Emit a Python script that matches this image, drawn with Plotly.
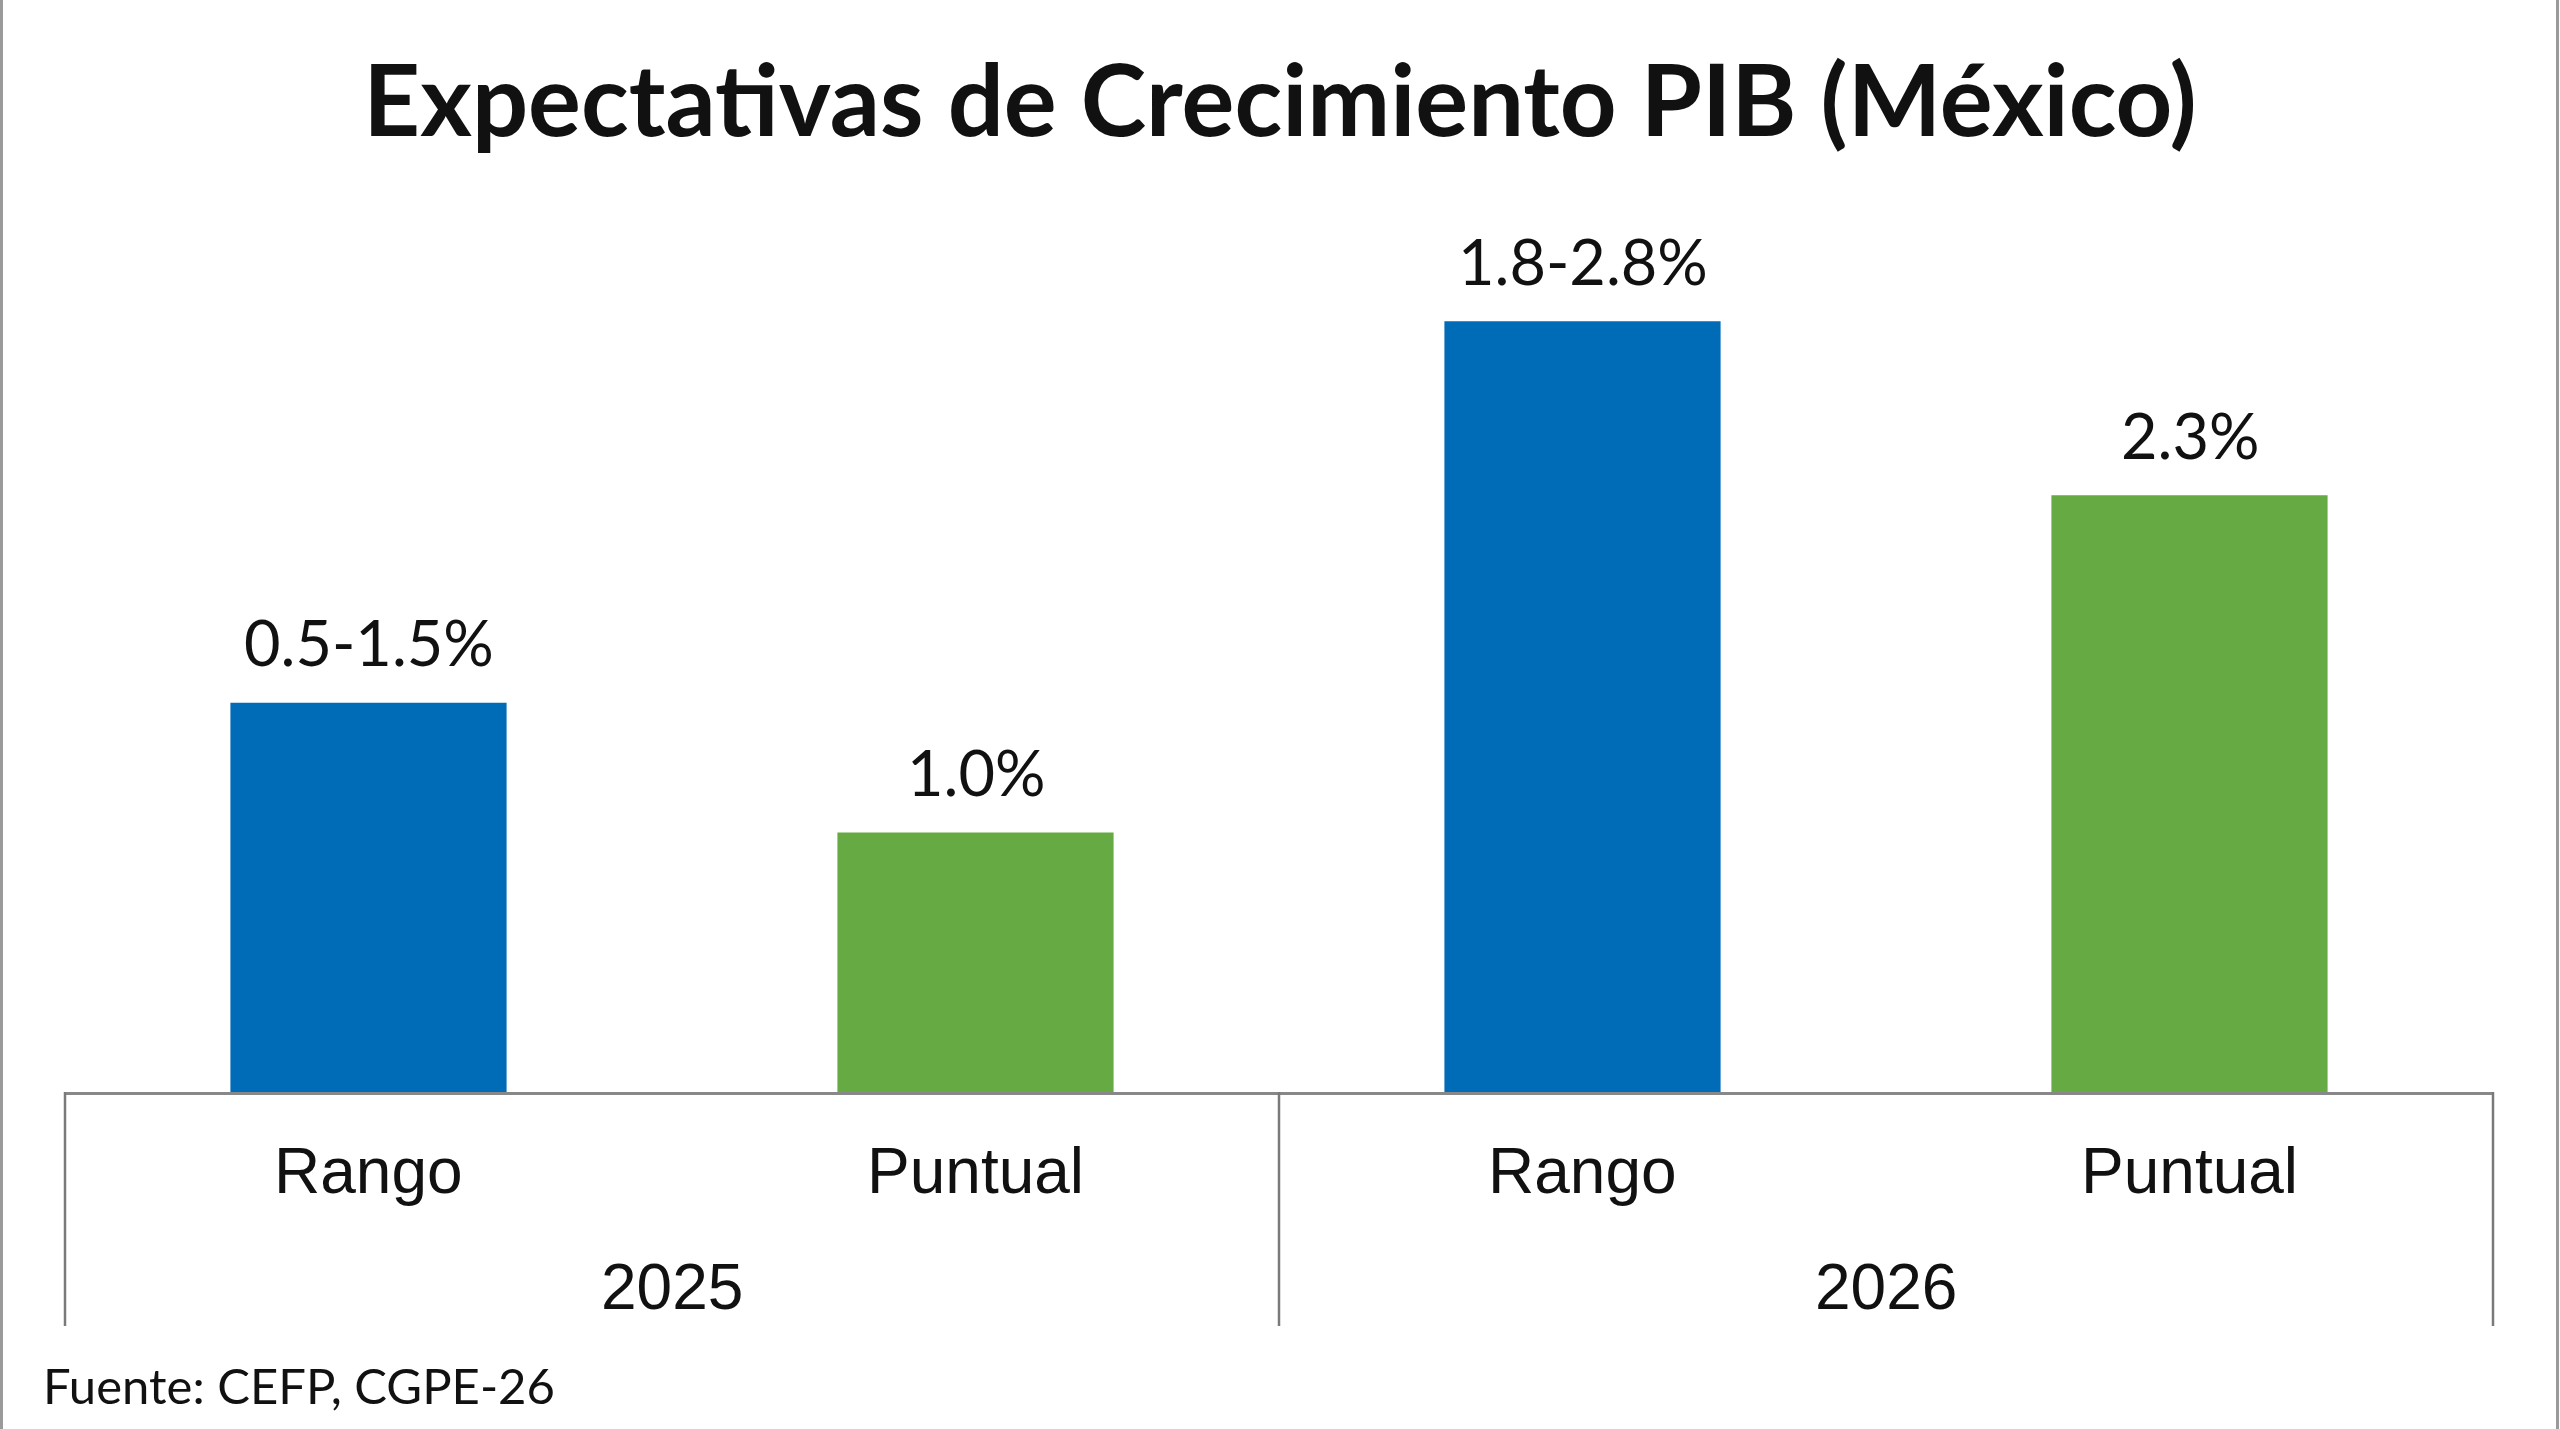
import plotly.graph_objects as go

years = ["2025", "2025", "2026", "2026"]
kinds = ["Rango", "Puntual", "Rango", "Puntual"]
values = [1.5, 1.0, 2.97, 2.3]
labels = ["0.5-1.5%", "1.0%", "1.8-2.8%", "2.3%"]
colors = ["#006BB6", "#66AA44", "#006BB6", "#66AA44"]
year_groups = ["2025", "2026"]

title = "Expectativas de Crecimiento PIB (México)"
source = "Fuente: CEFP, CGPE-26"

W, H = 2560, 1429
ML, MR, MT, MB = 65, 67, 200, 337
PW = W - ML - MR
PH = H - MT - MB
BASE = H - MB  # pixel y of axis line


def py(pix):
    """pixel y -> paper y"""
    return (BASE - pix) / PH


def px(pix):
    """pixel x -> paper x"""
    return (pix - ML) / PW


fig = go.Figure()
fig.add_trace(go.Bar(
    x=[years, kinds],
    y=values,
    marker=dict(color=colors, line=dict(width=0)),
    showlegend=False,
    hoverinfo="skip",
))

# value labels above bars
for yr, kd, v, lab in zip(years, kinds, values, labels):
    fig.add_annotation(
        x=[yr, kd], y=v, xref="x", yref="y", text=lab, showarrow=False,
        xanchor="center", yanchor="middle", yshift=61,
        font=dict(family="Lato", size=63, color="#111111"),
    )

# inner category labels
for yr, kd in zip(years, kinds):
    fig.add_annotation(
        x=[yr, kd], y=py(1171), xref="x", yref="paper", text=kd, showarrow=False,
        xanchor="center", yanchor="middle",
        font=dict(family="Liberation Sans", size=64, color="#111111"),
    )

# outer group labels and dividers
ng = len(year_groups)
for i, yr in enumerate(year_groups):
    fig.add_annotation(
        x=(i + 0.5) / ng, y=py(1287), xref="paper", yref="paper", text=yr,
        showarrow=False, xanchor="center", yanchor="middle",
        font=dict(family="Liberation Sans", size=64, color="#111111"),
    )
for i in range(ng + 1):
    fig.add_shape(type="line", xref="paper", yref="paper",
                  x0=i / ng, x1=i / ng, y0=0, y1=py(1326),
                  line=dict(color="#7a7a7a", width=2.5))

fig.add_annotation(
    x=px(41), y=py(1385), xref="paper", yref="paper",
    text=source, showarrow=False, xanchor="left", yanchor="middle",
    font=dict(family="Lato", size=49, color="#111111"),
)

# page borders (left and right)
for xb in (1.5, W - 2.5):
    fig.add_shape(type="line", xref="paper", yref="paper",
                  x0=px(xb), x1=px(xb), y0=py(H), y1=py(0),
                  line=dict(color="#9a9a9a", width=3))

fig.update_layout(
    width=W, height=H,
    margin=dict(l=ML, r=MR, t=MT, b=MB),
    paper_bgcolor="white", plot_bgcolor="white",
    bargap=0.545,
    title=dict(text=title, x=0.5, xanchor="center", y=1 - 101 / H, yanchor="middle",
               font=dict(family="Lato", size=99, color="#111111", weight="bold")),
    xaxis=dict(
        type="multicategory",
        showline=True, linecolor="#888888", linewidth=3,
        ticks="", showgrid=False, showticklabels=False,
        showdividers=False,
    ),
    yaxis=dict(range=[0, PH / 259.5], visible=False, showgrid=False, zeroline=False),
)

fig.write_html("out.html")
